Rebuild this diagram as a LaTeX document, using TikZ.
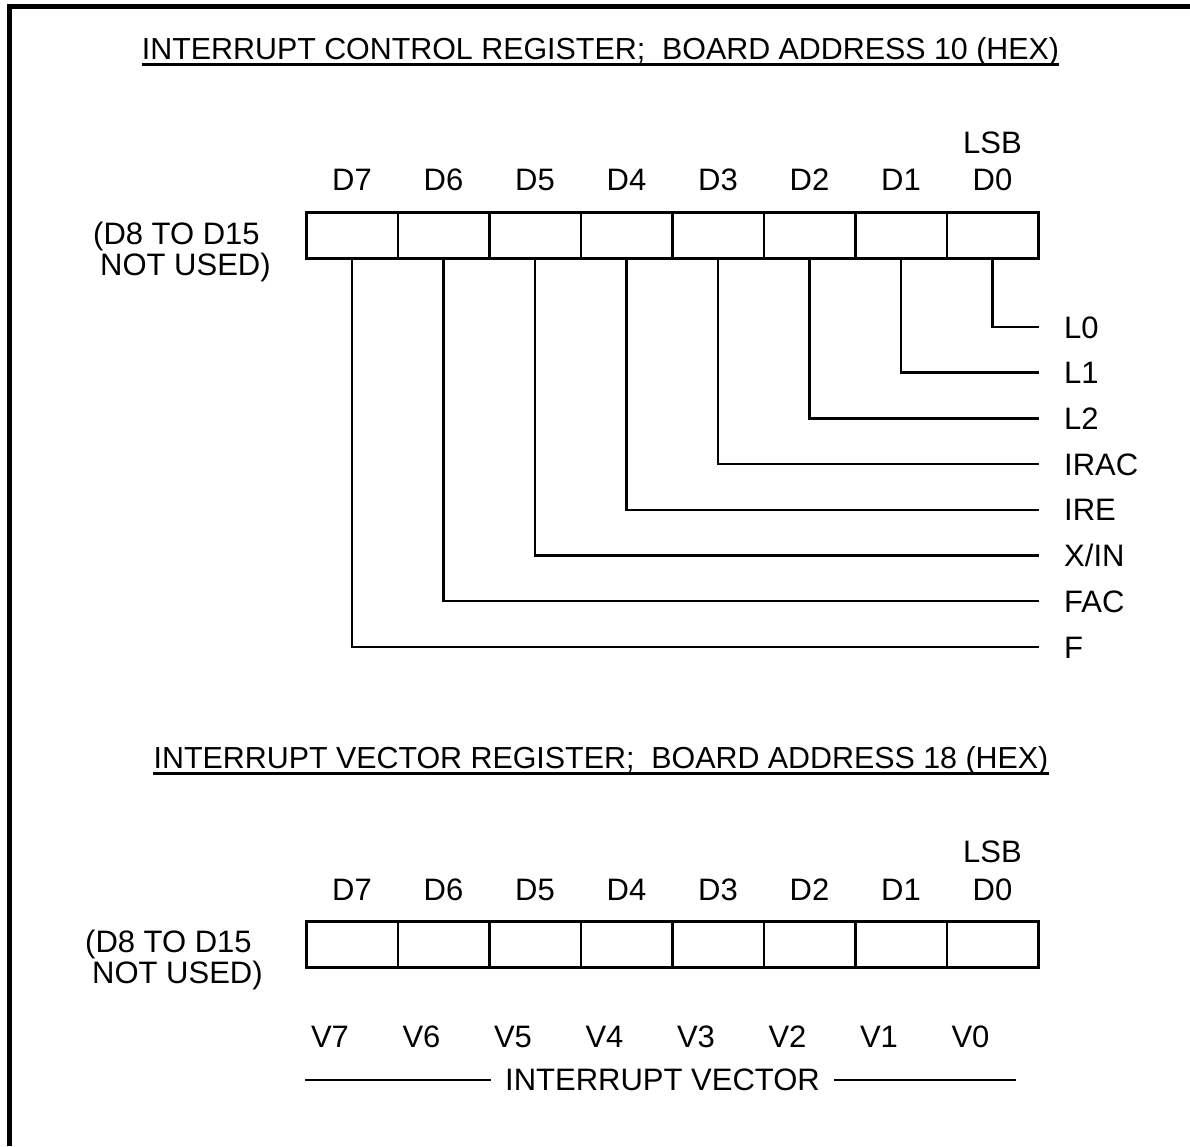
\documentclass[tikz,border=0pt]{standalone}
\usepackage{fontspec}
\setmainfont{Liberation Sans}
\begin{document}
\begin{tikzpicture}[line cap=butt,line join=miter,x=1pt,y=-1pt,
  txt/.style={font=\fontsize{31}{36}\selectfont,inner sep=0pt},
  ttl/.style={font=\fontsize{30.4}{36}\selectfont,inner sep=0pt,anchor=base},
  cell/.style={draw,line width=2.5pt,minimum width=91.5pt,minimum height=46pt,inner sep=0pt,outer sep=0pt},
  sigout/.style={txt,anchor=west,inner xsep=25pt,text height=22.2pt,text depth=0pt}]
\useasboundingbox (0,0) rectangle (1190,1146);
%cadre
\draw [line width=5pt] (9.5,1146) |- (1190,6.5);
%registre de controle
\node[ttl] (t1) at (600.5,59) {INTERRUPT CONTROL REGISTER;\ \ BOARD ADDRESS 10 (HEX)};
\draw [line width=2.5pt] ([yshift=-5.7pt]t1.base west) -- ([yshift=-5.7pt]t1.base east);
\foreach \i in {0,...,7} {
  \node[cell] (a\i) at ({992.5-91.5*\i},235.5) {};
  \node[txt,anchor=base] (da\i) at ({992.5-91.5*\i},190) {D\i};
}
\node[txt,anchor=base] (lsba) at (992.5,153) {LSB};
\node[txt,anchor=base west] (nua) at (93,244) {(D8 TO D15};
\node[txt,anchor=base west] (nub) at (100,275) {NOT USED)};
%lignes de sortie
\foreach \i/\t in {0/L0,1/L1,2/L2,3/IRAC,4/IRE,5/{X/IN},6/FAC,7/F} {
  \node[sigout] (f\i) at (1039,{327+45.7*\i}) {\t};
  \draw [line width=2.5pt] (a\i.south) |- (f\i.west);
}
%registre de vecteur
\node[ttl] (t2) at (601,768) {INTERRUPT VECTOR REGISTER;\ \ BOARD ADDRESS 18 (HEX)};
\draw [line width=2.5pt] ([yshift=-5.7pt]t2.base west) -- ([yshift=-5.7pt]t2.base east);
\foreach \i in {0,...,7} {
  \node[cell] (b\i) at ({992.5-91.5*\i},944.5) {};
  \node[txt,anchor=base] (db\i) at ({992.5-91.5*\i},900) {D\i};
  \node[txt,anchor=base] (v\i) at ({970.5-91.5*\i},1047) {V\i};
}
\node[txt,anchor=base] (lsbb) at (992.5,862) {LSB};
\node[txt,anchor=base west] (nuc) at (85,952) {(D8 TO D15};
\node[txt,anchor=base west] (nud) at (92,983) {NOT USED)};
%accolade du vecteur
\node[txt,anchor=base,inner xsep=14pt] (iv) at (662.5,1090) {INTERRUPT VECTOR};
\coordinate (vl) at (305,1080);
\coordinate (vr) at (1016,1080);
\draw [line width=2.5pt] (vl) -- (vl -| iv.west);
\draw [line width=2.5pt] (iv.east |- vr) -- (vr);
\end{tikzpicture}
\end{document}
